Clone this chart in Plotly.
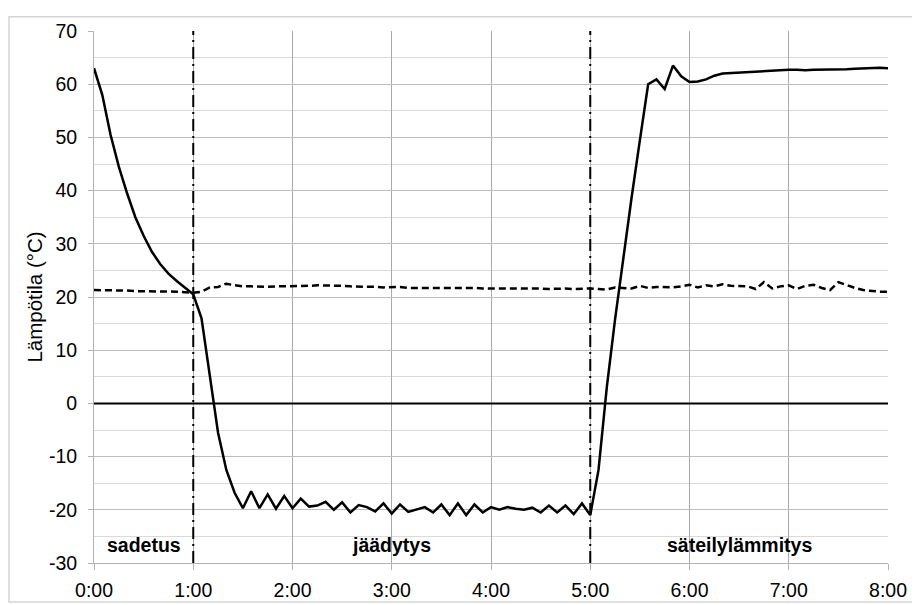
import plotly.graph_objects as go

# time axis: minutes from start, every 5 minutes
minutes = list(range(0, 481, 5))
tick_vals = [0, 1, 2, 3, 4, 5, 6, 7, 8]
tick_text = ["0:00", "1:00", "2:00", "3:00", "4:00", "5:00", "6:00", "7:00", "8:00"]
y_tick_vals = [-30, -20, -10, 0, 10, 20, 30, 40, 50, 60, 70]
y_tick_text = ["-30", "-20", "-10", "0", "10", "20", "30", "40", "50", "60", "70"]

# solid line: surface temperature (°C)
temp_surface = (
    [63.0, 58.0, 50.5, 44.5, 39.5, 35.0, 31.5, 28.5, 26.2, 24.4, 23.0, 21.8]          # 0:00-0:55
    + [20.5, 16.0, 5.5, -5.5, -12.5, -16.8, -19.7, -16.5, -19.7, -17.1, -19.8, -17.4]  # 1:00-1:55
    + [-19.7, -17.9, -19.4, -19.2, -18.5, -20.0, -18.6, -20.5, -19.1, -19.5, -20.3, -18.8]  # 2:00
    + [-20.7, -19.0, -20.4, -19.9, -19.5, -20.5, -19.0, -21.0, -18.8, -21.0, -19.0, -20.5]  # 3:00
    + [-19.5, -20.0, -19.5, -19.8, -20.0, -19.6, -20.5, -19.2, -20.5, -19.2, -20.8, -18.8]  # 4:00
    + [-21.0, -12.5, 3.0, 15.8, 27.5, 38.7, 49.5, 60.0, 60.9, 59.1, 63.5, 61.5]        # 5:00
    + [60.4, 60.5, 60.9, 61.6, 62.0, 62.1, 62.2, 62.3, 62.3, 62.4, 62.5, 62.6]         # 6:00
    + [62.7, 62.7, 62.6, 62.7, 62.7, 62.8, 62.8, 62.8, 62.9, 63.0, 63.0, 63.1]         # 7:00
    + [63.0]                                                                          # 8:00
)

# dashed line: ambient temperature (°C)
temp_air = (
    [21.3, 21.3, 21.2, 21.2, 21.2, 21.1, 21.1, 21.1, 21.0, 21.0, 21.0, 20.9]
    + [20.8, 21.0, 21.8, 21.9, 22.5, 22.2, 22.0, 22.0, 21.9, 21.9, 22.0, 22.0]
    + [22.0, 22.1, 22.1, 22.2, 22.2, 22.2, 22.1, 22.0, 22.0, 21.9, 21.9, 21.8]
    + [21.8, 21.9, 21.7, 21.7, 21.8, 21.8, 21.7, 21.8, 21.8, 21.7, 21.7, 21.6]
    + [21.6, 21.7, 21.6, 21.6, 21.7, 21.6, 21.6, 21.5, 21.6, 21.6, 21.5, 21.6]
    + [21.6, 21.5, 21.4, 21.8, 21.7, 21.6, 22.1, 21.7, 21.9, 21.8, 21.8, 22.0]
    + [22.3, 21.8, 22.2, 22.0, 22.4, 22.1, 22.0, 22.0, 21.5, 22.8, 21.6, 22.0]
    + [22.2, 21.5, 22.1, 22.3, 21.7, 21.3, 22.8, 22.2, 21.7, 21.3, 21.1, 21.0]
    + [21.0]
)

phase_marks = [1, 5]
phase_labels = ["sadetus", "jäädytys", "säteilylämmitys"]
phase_label_x = [0.5, 3.0, 6.5]
phase_label_y = -26.6

hours = [m / 60 for m in minutes]

fig = go.Figure()
fig.add_trace(go.Scatter(x=hours, y=temp_air, mode="lines",
                         line=dict(color="black", width=2.5, dash="7px,4px"),
                         showlegend=False))
fig.add_trace(go.Scatter(x=hours, y=temp_surface, mode="lines",
                         line=dict(color="black", width=2.5),
                         showlegend=False))

for xv in phase_marks:
    fig.add_shape(type="line", x0=xv, x1=xv, y0=-30, y1=70, xref="x", yref="y",
                  line=dict(color="black", width=2, dash="12px,5px,2px,5px"))

fig.add_shape(type="line", x0=0, x1=8, y0=0, y1=0, xref="x", yref="y",
              line=dict(color="black", width=2))

for lbl, lx in zip(phase_labels, phase_label_x):
    fig.add_annotation(x=lx, y=phase_label_y, text="<b>" + lbl + "</b>",
                       showarrow=False, font=dict(size=19.5, color="black",
                                                  family="Liberation Sans, Arial"))

# outer chart frame
fig.add_shape(type="rect", xref="paper", yref="paper",
              x0=-0.107, x1=1.06, y0=-0.0735, y1=1.027,
              line=dict(color="#d4d4d4", width=1.5), layer="below")

fig.update_layout(
    width=920, height=605,
    margin=dict(l=86, r=40, t=16, b=50),
    paper_bgcolor="white", plot_bgcolor="white",
    font=dict(family="Liberation Sans, Arial", size=19.5, color="black"),
    xaxis=dict(range=[0, 8], tickvals=tick_vals, ticktext=tick_text,
               showgrid=True, gridcolor="#aaaaaa", gridwidth=1.2,
               showline=True, linecolor="#b3b3b3", linewidth=1,
               ticks="outside", ticklen=6, tickcolor="#b3b3b3",
               ticklabelstandoff=4,
               zeroline=False, mirror=False),
    yaxis=dict(range=[-30, 70], tickvals=y_tick_vals, ticktext=y_tick_text,
               showgrid=True, gridcolor="#bdbdbd", gridwidth=1.2,
               minor=dict(tickvals=[-25, -15, -5, 5, 15, 25, 35, 45, 55, 65],
                          showgrid=True, gridcolor="#dadada", gridwidth=1),
               showline=True, linecolor="#b3b3b3", linewidth=1,
               ticks="outside", ticklen=5, tickcolor="#b3b3b3",
               ticklabelstandoff=7,
               zeroline=False,
               title=dict(text="Lämpötila (°C)",
                          font=dict(size=20.5, family="Liberation Sans, Arial", color="black"),
                          standoff=0)),
)

fig.write_html("out.html")
